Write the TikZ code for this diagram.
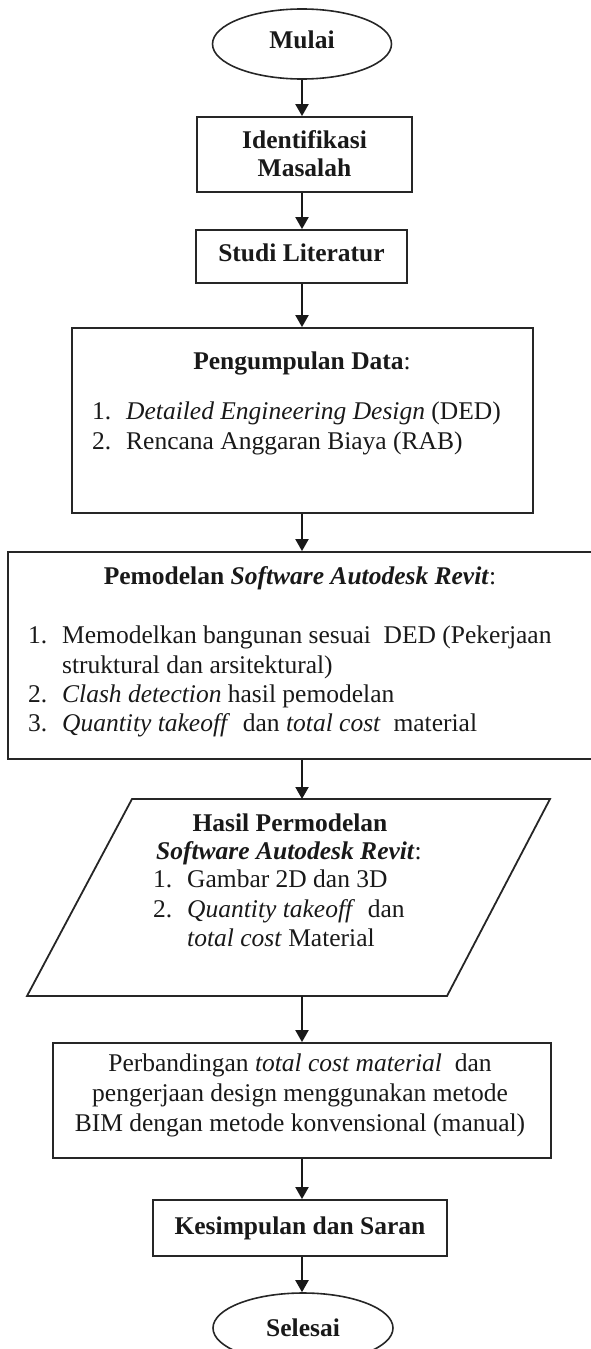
\documentclass[tikz,border=0pt]{standalone}
\usepackage{fontspec}
\setmainfont{Liberation Serif}
\usetikzlibrary{shapes.geometric,arrows.meta}
\newcommand\myfs{\fontsize{25.5}{30}\selectfont}
\newcommand\nb[1]{\makebox[34pt][l]{#1}}
\tikzset{
  boxs/.style={draw=black!85, line width=1.8pt, rectangle, inner sep=0pt},
  ells/.style={draw=black!85, line width=1.6pt, ellipse, inner sep=0pt},
  txt/.style={inner sep=0pt, font=\myfs, text=black!90},
  arr/.style={draw=black!90, line width=2pt, -{Triangle[width=13pt,length=12pt]}},
}
\begin{document}
\begin{tikzpicture}[x=1pt,y=-1pt]
\useasboundingbox (0,0) rectangle (591,1349);
\clip (0,0) rectangle (591,1349);

% shapes
\node[ells, minimum width=179pt, minimum height=70pt] (mulai) at (302,44) {};
\node[boxs, minimum width=215pt, minimum height=75pt] (ident) at (304.5,154.5) {};
\node[boxs, minimum width=211pt, minimum height=53pt] (studi) at (301.5,256.5) {};
\node[boxs, minimum width=461pt, minimum height=185pt] (data) at (302.5,420.5) {};
\node[boxs, minimum width=600pt, minimum height=207pt] (model) at (308,655.5) {};
\coordinate (hTL) at (132,799);
\coordinate (hTR) at (550,799);
\coordinate (hBR) at (447,996);
\coordinate (hBL) at (27,996);
\draw[draw=black!85, line width=1.8pt, line join=miter] (hTL) -- (hTR) -- (hBR) -- (hBL) -- cycle;
\coordinate (hasilN) at (302,799);
\coordinate (hasilS) at (302,996);
\node[boxs, minimum width=498pt, minimum height=115pt] (banding) at (302,1100.5) {};
\node[boxs, minimum width=294pt, minimum height=56pt] (simpul) at (300,1228) {};
\node[ells, minimum width=180pt, minimum height=70pt] (selesai) at (303,1328) {};

% texts
\node[txt, anchor=mid] (tmulai) at (302,46) {\textbf{Mulai}};
\node[txt, anchor=mid] (tident1) at (304.5,146) {\textbf{Identifikasi}};
\node[txt, anchor=mid] (tident2) at (304.5,174) {\textbf{Masalah}};
\node[txt, anchor=mid] (tstudi) at (301.5,259) {\textbf{Studi Literatur}};

\node[txt, anchor=mid] (tdata) at (302,367) {\textbf{Pengumpulan Data}:};
\node[txt, anchor=mid west] (tdata1) at (92,417) {\nb{1.}\textit{Detailed Engineering Design} (DED)};
\node[txt, anchor=mid west] (tdata2) at (92,447) {\nb{2.}Rencana Anggaran Biaya (RAB)};

\node[txt, anchor=mid] (tmodel) at (300,582) {\textbf{Pemodelan \textit{Software Autodesk Revit}}:};
\node[txt, anchor=mid west] (tmodel1) at (28,641) {\nb{1.}Memodelkan bangunan sesuai\ \ DED (Pekerjaan};
\node[txt, anchor=mid west] (tmodel1b) at (62,671) {struktural dan arsitektural)};
\node[txt, anchor=mid west] (tmodel2) at (28,700) {\nb{2.}\textit{Clash detection} hasil pemodelan};
\node[txt, anchor=mid west] (tmodel3) at (28,729) {\nb{3.}\textit{Quantity takeoff}\ \ dan \textit{total cost}\ \ material};

\node[txt, anchor=mid] (thasil) at (290,829) {\textbf{Hasil Permodelan}};
\node[txt, anchor=mid] (thasil0) at (289,857) {\textbf{\textit{Software Autodesk Revit}}:};
\node[txt, anchor=mid west] (thasil1) at (153,885) {\nb{1.}Gambar 2D dan 3D};
\node[txt, anchor=mid west] (thasil2) at (153,915) {\nb{2.}\textit{Quantity takeoff}\ \ dan};
\node[txt, anchor=mid west] (thasil2b) at (187,944) {\textit{total cost} Material};

\node[txt, anchor=mid] (tband1) at (300,1069) {Perbandingan \textit{total cost material}\ \ dan};
\node[txt, anchor=mid] (tband2) at (300,1099) {pengerjaan design menggunakan metode};
\node[txt, anchor=mid] (tband3) at (300,1129) {BIM dengan metode konvensional (manual)};

\node[txt, anchor=mid] (tsimpul) at (300,1232) {\textbf{Kesimpulan dan Saran}};
\node[txt, anchor=mid] (tselesai) at (303,1334) {\textbf{Selesai}};

% connectors
\draw[arr] (mulai.south) -- (mulai.south |- ident.north);
\draw[arr] (ident.south -| mulai.south) -- (mulai.south |- studi.north);
\draw[arr] (studi.south -| mulai.south) -- (mulai.south |- data.north);
\draw[arr] (data.south -| mulai.south) -- (mulai.south |- model.north);
\draw[arr] (model.south -| mulai.south) -- (hasilN);
\draw[arr] (hasilS) -- (mulai.south |- banding.north);
\draw[arr] (banding.south -| mulai.south) -- (mulai.south |- simpul.north);
\draw[arr] (simpul.south -| mulai.south) -- (mulai.south |- selesai.north);
\end{tikzpicture}
\end{document}
